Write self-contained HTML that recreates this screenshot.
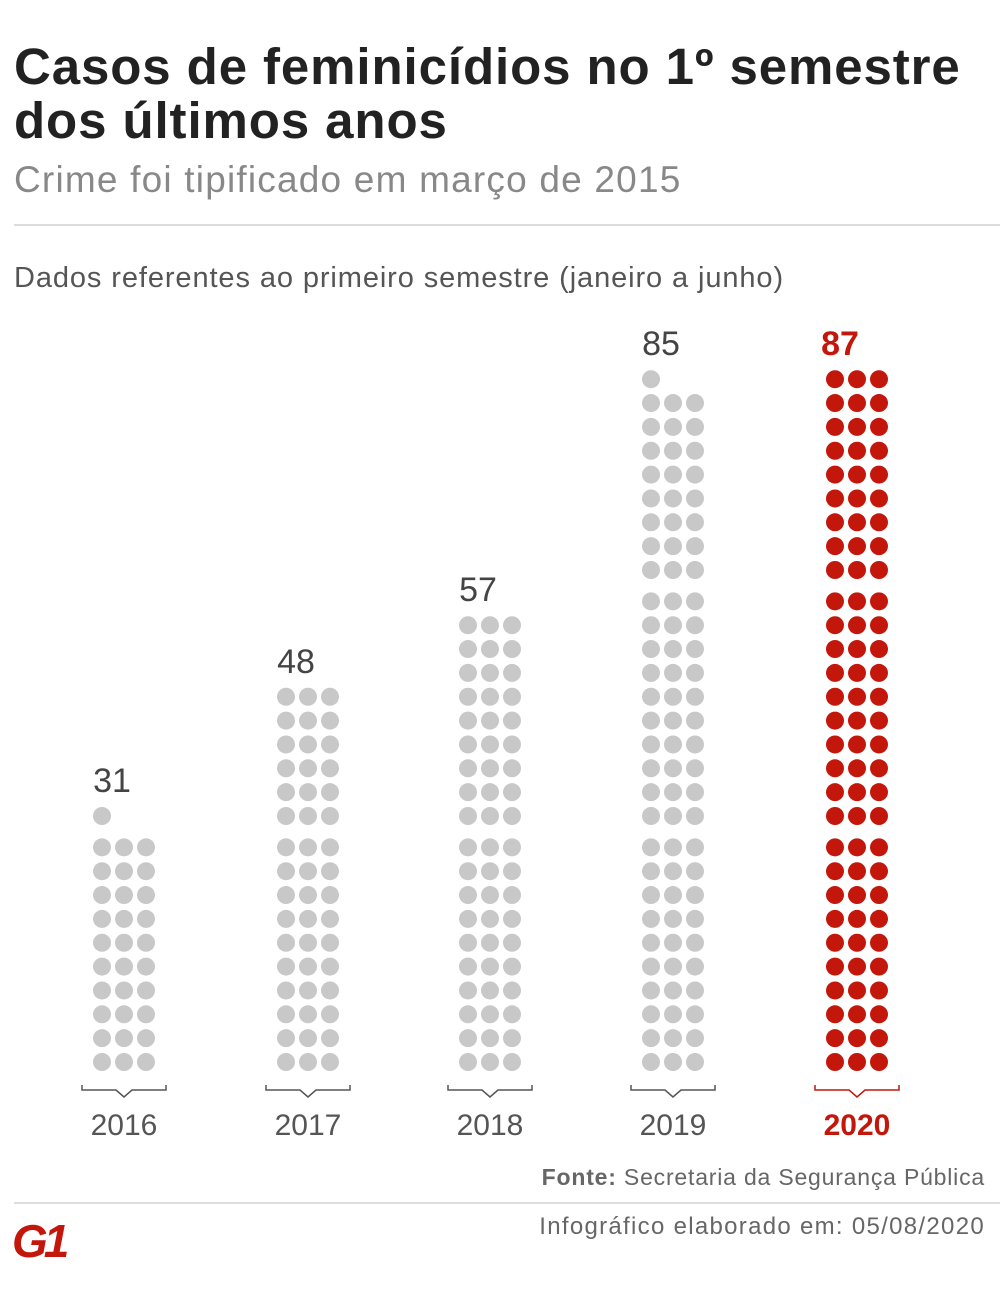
<!DOCTYPE html>
<html><head><meta charset="utf-8"><style>
body{margin:0;width:1000px;height:1298px;background:#fff;font-family:"Liberation Sans",sans-serif;position:relative;overflow:hidden}
.t{position:absolute;white-space:nowrap}
</style></head><body>
<div class="t" style="left:14px;top:40px;font-size:51px;font-weight:bold;color:#222;line-height:54px;letter-spacing:0.9px">Casos de feminicídios no 1º semestre<br>dos últimos anos</div>
<div class="t" style="left:14px;top:159px;font-size:37px;color:#888;letter-spacing:1.2px">Crime foi tipificado em março de 2015</div>
<div style="position:absolute;left:14px;top:224px;width:986px;height:2px;background:#ddd"></div>
<div class="t" style="left:14px;top:262px;font-size:29px;color:#555;letter-spacing:0.9px">Dados referentes ao primeiro semestre (janeiro a junho)</div>
<svg id="s" width="1000" height="1298" style="position:absolute;left:0;top:0"></svg>
<div class="t" style="right:15px;top:1164px;font-size:23px;color:#666;letter-spacing:0.8px"><b>Fonte:</b> Secretaria da Segurança Pública</div>
<div style="position:absolute;left:14px;top:1202px;width:986px;height:2px;background:#ddd"></div>
<div class="t" style="right:15px;top:1213px;font-size:24px;color:#666;letter-spacing:1.3px">Infográfico elaborado em: 05/08/2020</div>
<div class="t" style="left:12px;top:1214px;font-size:46px;font-weight:bold;font-style:italic;color:#c4170c;letter-spacing:-4px">G1</div>
<script>
var s=document.getElementById('s'),h='';
var data=[[2016,31,124],[2017,48,308],[2018,57,490],[2019,85,673],[2020,87,857]];
function Y(r){return 1062-r*23.85-Math.floor(r/10)*7.5;}
data.forEach(function(d,i){
 var red=i==4,c=red?'#c4170c':'#c8c8c8',n=d[1],x=d[2];
 for(var k=0;k<n;k++){var r=Math.floor(k/3),col=k%3;h+='<circle cx="'+(x-22+col*22)+'" cy="'+Y(r)+'" r="9" fill="'+c+'"/>';}
 var top=Y(Math.floor((n-1)/3));
 h+='<text x="'+(x-(red?17:12))+'" y="'+(top-24)+'" font-size="34" text-anchor="middle" fill="'+(red?'#c4170c':'#444')+'" font-weight="'+(red?'bold':'normal')+'" font-family="Liberation Sans">'+n+'</text>';
 h+='<path d="M'+(x-42)+' 1085V1090H'+(x-8)+'L'+x+' 1097L'+(x+8)+' 1090H'+(x+42)+'V1085" fill="none" stroke="'+(red?'#c4170c':'#555')+'" stroke-width="1.5"/>';
 h+='<text x="'+x+'" y="1135" font-size="30" text-anchor="middle" fill="'+(red?'#c4170c':'#555')+'" font-weight="'+(red?'bold':'normal')+'" font-family="Liberation Sans">'+d[0]+'</text>';
});
s.innerHTML=h;
</script>
</body></html>
